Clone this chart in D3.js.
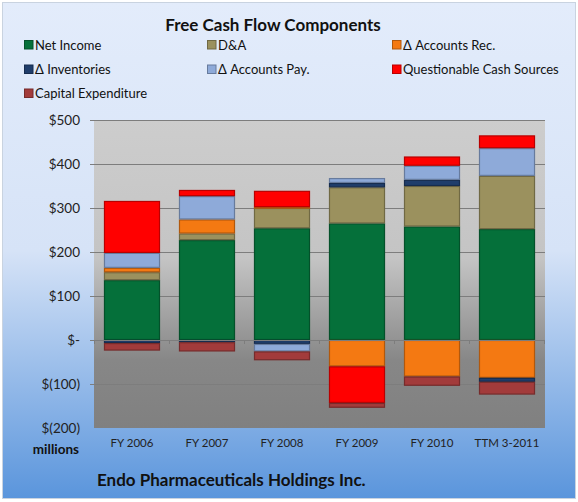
<!DOCTYPE html>
<html>
<head>
<meta charset="utf-8">
<script src="https://cdn.jsdelivr.net/npm/d3@7"></script>
<style>
  body { margin: 0; background: #fff; }
  svg text { font-family: Lato, 'Open Sans', sans-serif; }
</style>
</head>
<body>
<div id="chart"></div>
<script>
// -- DATA --
var categories = ['FY 2006', 'FY 2007', 'FY 2008', 'FY 2009', 'FY 2010', 'TTM 3-2011']
var netIncome    = [136, 227, 254, 265, 258, 252]
var dna          = [18, 15, 46, 82, 92, 121]
var acctsRec     = [10, 32, 2, -60, -83, -86]
var inventories  = [-7, -5, -9, 10, 14, -9]
var acctsPay     = [34, 53, -17, 11, 32, 63]
var questionable = [118, 14, 37, -83, 21, 29]
var capex        = [-17, -21, -20, -11, -21, -29]
var yTicks = [-200, -100, 0, 100, 200, 300, 400, 500]

var seriesNames = ['Net Income', 'D&A', '\u0394 Accounts Rec.', '\u0394 Inventories',
  '\u0394 Accounts Pay.', 'Questionable Cash Sources', 'Capital Expenditure']
var seriesValues = [netIncome, dna, acctsRec, inventories, acctsPay, questionable, capex]
var colors = ['#05703a', '#9b915e', '#f47912', '#1f3d6b', '#8eaad9', '#ff0000', '#a23b3b']

// -- SETUP --
var width = 578, height = 502
var margin = {left: 94, right: 33, top: 120, bottom: 74}

var svg = d3.select('#chart').append('svg')
  .attr('width', width)
  .attr('height', height)

var defs = svg.append('defs')

var bgGrad = defs.append('linearGradient').attr('id', 'bg')
  .attr('x1', 0).attr('y1', 0).attr('x2', 0).attr('y2', 1)
bgGrad.append('stop').attr('offset', '0%').attr('stop-color', '#e3ecfb')
bgGrad.append('stop').attr('offset', '50%').attr('stop-color', '#d6e3f7')
bgGrad.append('stop').attr('offset', '100%').attr('stop-color', '#5a95dc')

var plotGrad = defs.append('linearGradient').attr('id', 'plotbg')
  .attr('x1', 0).attr('y1', 0).attr('x2', 0).attr('y2', 1)
plotGrad.append('stop').attr('offset', '0%').attr('stop-color', '#cdcdcd')
plotGrad.append('stop').attr('offset', '45%').attr('stop-color', '#c4c4c4')
plotGrad.append('stop').attr('offset', '78%').attr('stop-color', '#878787')
plotGrad.append('stop').attr('offset', '100%').attr('stop-color', '#808080')

// outer frame
svg.append('rect')
  .attr('x', 2.5).attr('y', 2.5)
  .attr('width', width - 5).attr('height', height - 6)
  .style('fill', 'url(#bg)')
  .style('stroke', '#c9d3e0')
  .style('stroke-width', 1)

// -- SCALES --
var xMap = d3.scaleBand()
  .domain(categories)
  .range([margin.left, width - margin.right])
  .paddingInner(0.253)
  .paddingOuter(0.133)

var yMap = d3.scaleLinear()
  .domain([-200, 500])
  .range([height - margin.bottom, margin.top])

// plot area
svg.append('rect')
  .attr('x', margin.left).attr('y', yMap(500))
  .attr('width', width - margin.right - margin.left)
  .attr('height', yMap(-200) - yMap(500))
  .style('fill', 'url(#plotbg)')

// gridlines
var yAxis = d3.axisLeft(yMap)
  .tickValues(yTicks)
  .tickSize(-(width - margin.right - margin.left))
  .tickPadding(14)
  .tickFormat(function(d) {
    if (d === 0) return '$-'
    return d < 0 ? '$(' + Math.abs(d) + ')' : '$' + d
  })

var gY = svg.append('g')
  .attr('transform', 'translate(' + margin.left + ',0)')
  .call(yAxis)
gY.select('.domain').remove()
gY.selectAll('line')
  .style('stroke', '#7d7d7d')
  .style('shape-rendering', 'crispEdges')
  .attr('x1', -4)
gY.selectAll('.tick').filter(function(d) { return d === -200 }).select('line').remove()
gY.selectAll('text')
  .style('font-size', '13.5px')
  .style('fill', '#222')

// -- STACK --
var rows = categories.map(function(c, i) {
  var r = {cat: c}
  seriesNames.forEach(function(s, j) { r[s] = seriesValues[j][i] })
  return r
})

var stack = d3.stack()
  .keys(seriesNames)
  .offset(d3.stackOffsetDiverging)
var stacked = stack(rows)

var gBars = svg.append('g')
stacked.forEach(function(layer, j) {
  var base = d3.color(colors[j])
  var g = gBars.append('g')
  g.selectAll('rect')
    .data(layer.filter(function(d) { return d[1] !== d[0] }))
    .enter().append('rect')
      .attr('x', function(d) { return xMap(d.data.cat) + 0.5 })
      .attr('y', function(d) { return yMap(d[1]) + 0.5 })
      .attr('width', xMap.bandwidth() - 1)
      .attr('height', function(d) { return Math.max(0.5, yMap(d[0]) - yMap(d[1]) - 1) })
      .style('fill', colors[j])
      .style('stroke', base.darker(0.9))
      .style('stroke-width', 1.2)
})

// zero line with category ticks
svg.append('line')
  .attr('x1', margin.left - 4).attr('x2', width - margin.right)
  .attr('y1', yMap(0)).attr('y2', yMap(0))
  .style('stroke', '#7d7d7d')
  .style('shape-rendering', 'crispEdges')

var step = xMap.step()
svg.append('g').selectAll('line')
  .data(categories.concat(['end']))
  .enter().append('line')
    .attr('x1', function(d, i) { return xMap(categories[0]) - xMap.paddingInner() * step / 2 + i * step })
    .attr('x2', function(d, i) { return xMap(categories[0]) - xMap.paddingInner() * step / 2 + i * step })
    .attr('y1', yMap(0)).attr('y2', yMap(0) + 4)
    .style('stroke', '#7d7d7d')
    .style('shape-rendering', 'crispEdges')

// category labels
svg.append('g').selectAll('text')
  .data(categories)
  .enter().append('text')
    .attr('x', function(d) { return xMap(d) + xMap.bandwidth() / 2 })
    .attr('y', yMap(-200) + 19)
    .style('text-anchor', 'middle')
    .style('font-size', '11.5px')
    .style('fill', '#222')
    .text(function(d) { return d })

svg.append('text')
  .attr('x', 79).attr('y', 454)
  .style('text-anchor', 'end')
  .style('font-size', '13.5px')
  .style('font-weight', 'bold')
  .style('fill', '#111')
  .text('millions')

// titles
svg.append('text')
  .attr('x', 273).attr('y', 31)
  .style('text-anchor', 'middle')
  .style('font-size', '17px')
  .style('font-weight', 'bold')
  .style('fill', '#111')
  .text('Free Cash Flow Components')

svg.append('text')
  .attr('x', 97).attr('y', 486)
  .style('font-size', '17px')
  .style('font-weight', 'bold')
  .style('fill', '#111')
  .text('Endo Pharmaceuticals Holdings Inc.')

// -- LEGEND --
var legendX = [24, 207, 392]
var legendY = [45, 69.5, 93.5]
var gLegend = svg.append('g')
seriesNames.forEach(function(s, i) {
  var lx = legendX[i % 3], ly = legendY[Math.floor(i / 3)]
  gLegend.append('rect')
    .attr('x', lx + 0.5).attr('y', ly - 4.5)
    .attr('width', 8.5).attr('height', 8.5)
    .style('fill', colors[i])
    .style('stroke', d3.color(colors[i]).darker(0.9))
  gLegend.append('text')
    .attr('x', lx + 11).attr('y', ly + 4.5)
    .style('font-size', '13px')
    .style('fill', '#111')
    .text(s)
})
</script>
</body>
</html>
